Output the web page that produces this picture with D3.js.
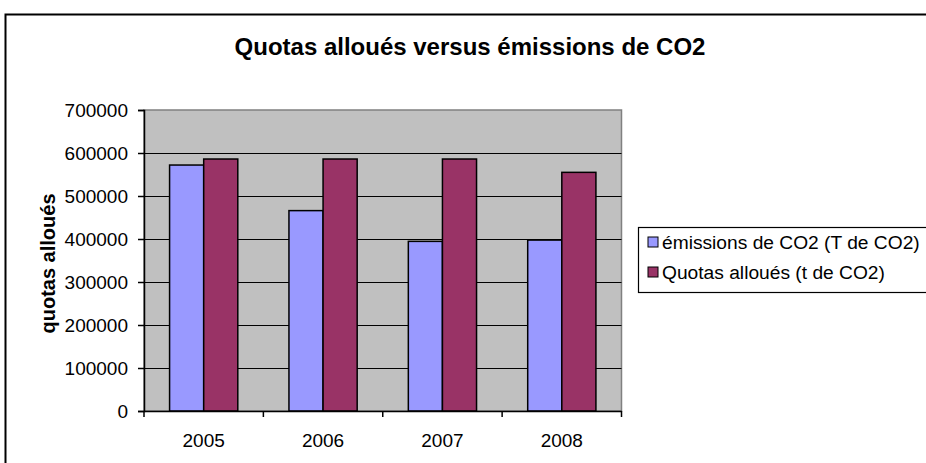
<!DOCTYPE html>
<html>
<head>
<meta charset="utf-8">
<script src="https://cdn.jsdelivr.net/npm/d3@7"></script>
<style>
  html, body { margin: 0; padding: 0; background: #fff; }
  svg { display: block; font-family: "Liberation Sans", Arial, sans-serif; }
</style>
</head>
<body>
<svg id="chart" width="926" height="463"></svg>
<script>
// Chart data
const years = ["2005", "2006", "2007", "2008"];
const seriesNames = ["émissions de CO2 (T de CO2)", "Quotas alloués (t de CO2)"];
const emissions = [572000, 466000, 394500, 397500];
const quotas = [586000, 586000, 586000, 555000];
const yTicks = [0, 100000, 200000, 300000, 400000, 500000, 600000, 700000];
const seriesColors = ["#9999FF", "#993366"];

const svg = d3.select("#chart");

// Outer chart frame (extends past the right and bottom edges)
svg.append("rect")
  .attr("x", 5.5).attr("y", 14.5)
  .attr("width", 1000).attr("height", 1000)
  .attr("fill", "#fff")
  .attr("stroke", "#000").attr("stroke-width", 2);

const plot = { left: 144, right: 621.5, top: 110, bottom: 411 };

// Scales
const x = d3.scaleBand()
  .domain(years)
  .range([plot.left, plot.right])
  .paddingInner(1.5 / 3.5)
  .paddingOuter(0.75 / 3.5);

const xSeries = d3.scaleBand()
  .domain(seriesNames)
  .range([0, x.bandwidth()]);

const y = d3.scaleLinear()
  .domain([0, 700000])
  .range([plot.bottom, plot.top]);

// Plot area background
svg.append("rect")
  .attr("x", plot.left).attr("y", plot.top)
  .attr("width", plot.right - plot.left).attr("height", plot.bottom - plot.top)
  .attr("fill", "#C0C0C0")
  .attr("stroke", "#808080").attr("stroke-width", 1.5);

// Horizontal gridlines
svg.append("g")
  .selectAll("line")
  .data(yTicks.filter(v => v > 0 && v < 700000))
  .join("line")
  .attr("x1", plot.left).attr("x2", plot.right)
  .attr("y1", d => Math.round(y(d)) + 0.5).attr("y2", d => Math.round(y(d)) + 0.5)
  .attr("stroke", "#000").attr("stroke-width", 1.2);

// Bars
const rows = years.map((yr, i) => ({ year: yr, values: [emissions[i], quotas[i]] }));
svg.append("g")
  .selectAll("g")
  .data(rows)
  .join("g")
  .attr("transform", d => `translate(${x(d.year)},0)`)
  .selectAll("rect")
  .data(d => d.values.map((v, j) => ({ name: seriesNames[j], value: v, color: seriesColors[j] })))
  .join("rect")
  .attr("x", d => xSeries(d.name))
  .attr("y", d => y(d.value))
  .attr("width", xSeries.bandwidth())
  .attr("height", d => y(0) - y(d.value))
  .attr("fill", d => d.color)
  .attr("stroke", "#000").attr("stroke-width", 1.5);

// Y axis
const yAxis = svg.append("g")
  .attr("transform", `translate(${plot.left},0)`)
  .call(d3.axisLeft(y).tickValues(yTicks).tickFormat(d3.format("d")).tickSize(6).tickPadding(10));
yAxis.selectAll("text").attr("font-size", 19).attr("fill", "#000")
  .style("font-family", "'Liberation Sans', Arial, sans-serif");
yAxis.selectAll("line, path").attr("stroke", "#000").attr("stroke-width", 1.5);

// X axis: labels at category centers, ticks at category boundaries
const xAxis = svg.append("g")
  .attr("transform", `translate(0,${plot.bottom})`)
  .call(d3.axisBottom(x).tickSize(0).tickPadding(23).tickSizeOuter(0));
xAxis.selectAll("text").attr("font-size", 19).attr("fill", "#000")
  .style("font-family", "'Liberation Sans', Arial, sans-serif");
xAxis.select("path").attr("stroke", "#000").attr("stroke-width", 1.5);
const step = x.step();
const start = x.range()[0];
xAxis.append("g")
  .selectAll("line")
  .data(d3.range(years.length + 1))
  .join("line")
  .attr("x1", i => start + i * step).attr("x2", i => start + i * step)
  .attr("y1", 0).attr("y2", 6)
  .attr("stroke", "#000").attr("stroke-width", 1.5);

// Y axis title
svg.append("text")
  .attr("transform", `translate(48,${(plot.top + plot.bottom) / 2 + 3}) rotate(-90)`)
  .attr("text-anchor", "middle")
  .attr("dy", "0.35em")
  .attr("font-size", 20).attr("font-weight", "bold")
  .text("quotas alloués");

// Chart title
svg.append("text")
  .attr("x", 470).attr("y", 55)
  .attr("text-anchor", "middle")
  .attr("font-size", 24).attr("font-weight", "bold")
  .text("Quotas alloués versus émissions de CO2");

// Legend
const legend = svg.append("g").attr("transform", "translate(638,227)");
legend.append("rect")
  .attr("x", 0.5).attr("y", 0.5)
  .attr("width", 400).attr("height", 65)
  .attr("fill", "#fff").attr("stroke", "#000").attr("stroke-width", 1.2);
const items = legend.selectAll("g.item")
  .data(seriesNames)
  .join("g")
  .attr("class", "item")
  .attr("transform", (d, i) => `translate(0,${15 + i * 30})`);
items.append("rect")
  .attr("x", 10).attr("y", -5)
  .attr("width", 10).attr("height", 10)
  .attr("fill", (d, i) => seriesColors[i])
  .attr("stroke", "#000").attr("stroke-width", 1);
items.append("text")
  .attr("x", 24).attr("y", 0).attr("dy", "0.36em")
  .attr("font-size", 19.2)
  .text(d => d);
</script>
</body>
</html>
